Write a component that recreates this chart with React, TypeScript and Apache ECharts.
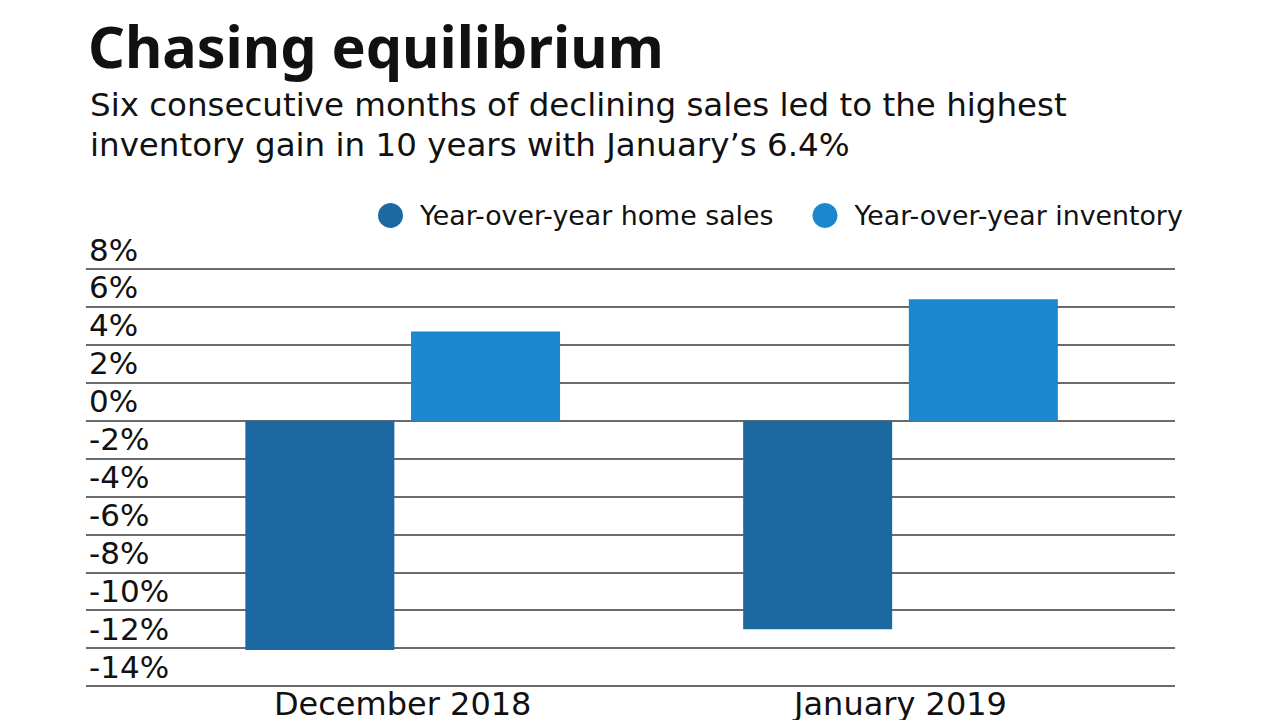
import React, { useEffect, useRef } from "react";
import * as echarts from "echarts";

const categories = ["December 2018", "January 2019"];
const homeSales = [-12.1, -11.0];
const inventory = [4.7, 6.4];
const yMin = -14;
const yMax = 8;
const yStep = 2;

const TITLE_FONT = "Noto Sans";
const FONT = "DejaVu Sans";

export default function App() {
  const ref = useRef<HTMLDivElement>(null);
  useEffect(() => {
    if (!ref.current) return;
    const chart = echarts.init(ref.current, null, { renderer: "svg" });
    chart.setOption({
      animation: false,
      backgroundColor: "#ffffff",
      textStyle: { fontFamily: FONT },
      title: [
        {
          text: "Chasing equilibrium",
          left: 83,
          top: 10,
          textStyle: { fontFamily: TITLE_FONT, fontSize: 57.5, fontWeight: "bold", color: "#111", lineHeight: 62 },
        },
        {
          text: "Six consecutive months of declining sales led to the highest\ninventory gain in 10 years with January\u2019s 6.4%",
          left: 85,
          top: 80,
          textStyle: { fontFamily: FONT, fontSize: 32.5, fontWeight: "normal", color: "#111", lineHeight: 40 },
        },
      ],
      legend: {
        left: 373,
        top: 197,
        icon: "circle",
        itemWidth: 25,
        itemHeight: 25,
        itemGap: 39,
        textStyle: { fontFamily: FONT, fontSize: 26.8, color: "#111", padding: [0, 0, 0, 12] },
        data: ["Year-over-year home sales", "Year-over-year inventory"],
      },
      grid: [
        { left: 86, right: 105, top: 269, bottom: 34 },
        { left: 153.8, right: 130.6, top: 269, bottom: 34 },
      ],
      xAxis: [
        { type: "category", gridIndex: 0, data: categories, show: false },
        {
          type: "category",
          gridIndex: 1,
          data: categories,
          axisLine: { show: false },
          axisTick: { show: false },
          axisLabel: { fontFamily: FONT, fontSize: 32, color: "#111", margin: 2 },
        },
      ],
      yAxis: [
        {
          type: "value",
          gridIndex: 0,
          min: yMin,
          max: yMax,
          interval: yStep,
          axisLine: { show: false },
          axisTick: { show: false },
          splitLine: { show: true, lineStyle: { color: "#3a3a3a", width: 1.5 } },
          axisLabel: {
            inside: true,
            margin: 3,
            verticalAlign: "bottom",
            padding: [0, 0, 4, 0],
            fontFamily: FONT,
            fontSize: 31,
            color: "#111",
            formatter: "{value}%",
          },
        },
        { type: "value", gridIndex: 1, min: yMin, max: yMax, interval: yStep, show: false },
      ],
      series: [
        {
          name: "Year-over-year home sales",
          type: "bar",
          xAxisIndex: 1,
          yAxisIndex: 1,
          data: homeSales,
          barWidth: 149,
          barGap: "11.2%",
          itemStyle: { color: "#1b69a0" },
        },
        {
          name: "Year-over-year inventory",
          type: "bar",
          xAxisIndex: 1,
          yAxisIndex: 1,
          data: inventory,
          barWidth: 149,
          barGap: "11.2%",
          itemStyle: { color: "#1c87d1" },
        },
      ],
    });
    return () => chart.dispose();
  }, []);
  return <div ref={ref} style={{ width: 1280, height: 720, position: "absolute", left: 0, top: 0 }} />;
}
